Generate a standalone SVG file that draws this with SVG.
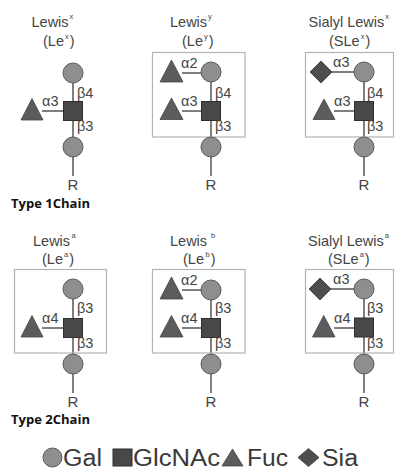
<svg xmlns="http://www.w3.org/2000/svg" width="395" height="469" viewBox="0 0 395 469">
<style>
.bg{fill:#ffffff}
.gal{fill:#8e8e8e;stroke:#5a5a5a;stroke-width:1}
.glc{fill:#484848;stroke:#2e2e2e;stroke-width:1}
.fuc{fill:#5c5c5c;stroke:#454545;stroke-width:0.8}
.sia{fill:#4e4e4e;stroke:#3a3a3a;stroke-width:0.8}
.ln{stroke:#555555;stroke-width:1.5;fill:none}
.box{fill:none;stroke:#b4b4b4;stroke-width:1.2}
.t{font-family:"Liberation Sans",Arial,sans-serif;fill:#454545}
.ttl{font-size:14.5px}
.sup{font-size:7.5px}
.lk{font-size:14.5px}
.r{font-size:15px;text-anchor:middle}
.chain{font-family:"Open Sans","Liberation Sans",sans-serif;font-weight:bold;font-size:12.5px;fill:#111111}
.leg{font-size:23px;fill:#3a3a3a}
</style>
<rect class="bg" x="0" y="0" width="395" height="469"/>

<g id="connectors">
  <line class="ln" x1="73" y1="73" x2="73" y2="176"/>
  <line class="ln" x1="42" y1="111" x2="64" y2="111"/>
  <line class="ln" x1="211" y1="72" x2="211" y2="176"/>
  <line class="ln" x1="182" y1="73" x2="202" y2="73"/>
  <line class="ln" x1="182" y1="111" x2="202" y2="111"/>
  <line class="ln" x1="364" y1="72" x2="364" y2="176"/>
  <line class="ln" x1="331" y1="72" x2="355" y2="72"/>
  <line class="ln" x1="334" y1="111" x2="355" y2="111"/>
  <line class="ln" x1="73" y1="289" x2="73" y2="393"/>
  <line class="ln" x1="42" y1="328" x2="64" y2="328"/>
  <line class="ln" x1="211" y1="290" x2="211" y2="393"/>
  <line class="ln" x1="182" y1="290" x2="202" y2="290"/>
  <line class="ln" x1="182" y1="328" x2="202" y2="328"/>
  <line class="ln" x1="364" y1="289" x2="364" y2="393"/>
  <line class="ln" x1="331" y1="289" x2="355" y2="289"/>
  <line class="ln" x1="334" y1="328" x2="355" y2="328"/>
</g>

<g id="lewis-x">
  <text class="t ttl" x="31.5" y="26.5">Lewis<tspan class="sup" dx="1" dy="-7.5">x</tspan></text>
  <text class="t ttl" x="43" y="46">(Le<tspan class="sup" dx="1" dy="-7.5">x</tspan><tspan dx="1" dy="7.5">)</tspan></text>
  <circle class="gal" cx="73" cy="73" r="10"/>
  <rect class="glc" x="63.5" y="101.5" width="19" height="19"/>
  <polygon class="fuc" points="21,120 43,120 32,98.5"/>
  <circle class="gal" cx="73" cy="147" r="10"/>
  <text class="t lk" x="42" y="106">α3</text>
  <text class="t lk" x="77" y="98">β4</text>
  <text class="t lk" x="77" y="131">β3</text>
  <text class="t r" x="73" y="190">R</text>
</g>

<g id="lewis-y">
  <text class="t ttl" x="170" y="26.5">Lewis<tspan class="sup" dx="1" dy="-7.5">y</tspan></text>
  <text class="t ttl" x="182" y="46">(Le<tspan class="sup" dx="1" dy="-7.5">y</tspan><tspan dx="1" dy="7.5">)</tspan></text>
  <rect class="box" x="152.5" y="52.5" width="92.5" height="84.5"/>
  <polygon class="fuc" points="160,82 183,82 171.5,60"/>
  <circle class="gal" cx="211" cy="72" r="10"/>
  <polygon class="fuc" points="160,119.5 183,119.5 171.5,98"/>
  <rect class="glc" x="201.5" y="101.5" width="19" height="19"/>
  <circle class="gal" cx="211" cy="147" r="10"/>
  <text class="t lk" x="181" y="68">α2</text>
  <text class="t lk" x="181" y="106">α3</text>
  <text class="t lk" x="215" y="98">β4</text>
  <text class="t lk" x="215" y="131">β3</text>
  <text class="t r" x="211" y="190">R</text>
</g>

<g id="sialyl-lewis-x">
  <text class="t ttl" x="308.5" y="26.5">Sialyl Lewis<tspan class="sup" dx="1" dy="-7.5">x</tspan></text>
  <text class="t ttl" x="329" y="46">(SLe<tspan class="sup" dx="1" dy="-7.5">x</tspan><tspan dx="1" dy="7.5">)</tspan></text>
  <rect class="box" x="305.5" y="52.5" width="88" height="84.5"/>
  <polygon class="sia" points="310,72 321,61 332,72 321,83"/>
  <circle class="gal" cx="364" cy="72" r="10"/>
  <polygon class="fuc" points="313,119.5 335,119.5 324,99"/>
  <rect class="glc" x="354.5" y="101.5" width="19" height="19"/>
  <circle class="gal" cx="364" cy="147" r="10"/>
  <text class="t lk" x="333" y="67">α3</text>
  <text class="t lk" x="334" y="106">α3</text>
  <text class="t lk" x="367" y="98">β4</text>
  <text class="t lk" x="367" y="131">β3</text>
  <text class="t r" x="364" y="190">R</text>
</g>

<text class="chain" x="11" y="208" textLength="79" lengthAdjust="spacingAndGlyphs">Type 1Chain</text>

<g id="lewis-a">
  <text class="t ttl" x="33" y="245.5">Lewis<tspan class="sup" dx="1.5" dy="-7.5">a</tspan></text>
  <text class="t ttl" x="42" y="264">(Le<tspan class="sup" dx="1" dy="-7.5">a</tspan><tspan dx="1" dy="7.5">)</tspan></text>
  <rect class="box" x="14.5" y="269.5" width="92" height="83.5"/>
  <circle class="gal" cx="73" cy="289" r="10"/>
  <polygon class="fuc" points="21,337 43,337 32,315.5"/>
  <rect class="glc" x="63.5" y="318.5" width="19" height="19"/>
  <circle class="gal" cx="73" cy="364" r="10"/>
  <text class="t lk" x="42" y="323">α4</text>
  <text class="t lk" x="77" y="313">β3</text>
  <text class="t lk" x="77" y="348">β3</text>
  <text class="t r" x="73" y="407">R</text>
</g>

<g id="lewis-b">
  <text class="t ttl" x="170" y="245.5">Lewis<tspan class="sup" dx="4" dy="-7.5">b</tspan></text>
  <text class="t ttl" x="183" y="264">(Le<tspan class="sup" dx="1.5" dy="-7.5">b</tspan><tspan dx="1" dy="7.5">)</tspan></text>
  <rect class="box" x="152.5" y="269.5" width="92.5" height="83.5"/>
  <polygon class="fuc" points="160,299 183,299 171.5,277"/>
  <circle class="gal" cx="211" cy="290" r="10"/>
  <polygon class="fuc" points="160,337 183,337 171.5,315.5"/>
  <rect class="glc" x="201.5" y="318.5" width="19" height="19"/>
  <circle class="gal" cx="211" cy="364" r="10"/>
  <text class="t lk" x="181" y="285">α2</text>
  <text class="t lk" x="181" y="323">α4</text>
  <text class="t lk" x="215" y="313">β3</text>
  <text class="t lk" x="215" y="348">β3</text>
  <text class="t r" x="211" y="407">R</text>
</g>

<g id="sialyl-lewis-a">
  <text class="t ttl" x="308" y="245.5">Sialyl Lewis<tspan class="sup" dx="1" dy="-7.5">a</tspan></text>
  <text class="t ttl" x="328" y="264">(SLe<tspan class="sup" dx="1" dy="-7.5">a</tspan><tspan dx="1" dy="7.5">)</tspan></text>
  <rect class="box" x="305.5" y="269.5" width="88" height="83.5"/>
  <polygon class="sia" points="309,289 320,278 331,289 320,300"/>
  <circle class="gal" cx="364" cy="289" r="10"/>
  <polygon class="fuc" points="312.5,337 335,337 323.75,315.5"/>
  <rect class="glc" x="354.5" y="318" width="19" height="19"/>
  <circle class="gal" cx="364" cy="364" r="10"/>
  <text class="t lk" x="333" y="284">α3</text>
  <text class="t lk" x="334" y="323">α4</text>
  <text class="t lk" x="367" y="313">β3</text>
  <text class="t lk" x="367" y="348">β3</text>
  <text class="t r" x="364" y="407">R</text>
</g>

<text class="chain" x="11" y="424" textLength="79" lengthAdjust="spacingAndGlyphs">Type 2Chain</text>

<g id="legend">
  <circle class="gal" cx="52.5" cy="457.5" r="9.5"/>
  <text class="t leg" x="63" y="465.5" textLength="39" lengthAdjust="spacingAndGlyphs">Gal</text>
  <rect class="glc" x="113" y="449" width="19" height="17"/>
  <text class="t leg" x="133" y="465.5" textLength="87" lengthAdjust="spacingAndGlyphs">GlcNAc</text>
  <polygon class="fuc" points="222,466 243,466 232.5,449"/>
  <text class="t leg" x="247" y="465.5" textLength="41" lengthAdjust="spacingAndGlyphs">Fuc</text>
  <polygon class="sia" points="298,457.5 308.5,448.5 319,457.5 308.5,466.5"/>
  <text class="t leg" x="322" y="465.5" textLength="36" lengthAdjust="spacingAndGlyphs">Sia</text>
</g>
</svg>
